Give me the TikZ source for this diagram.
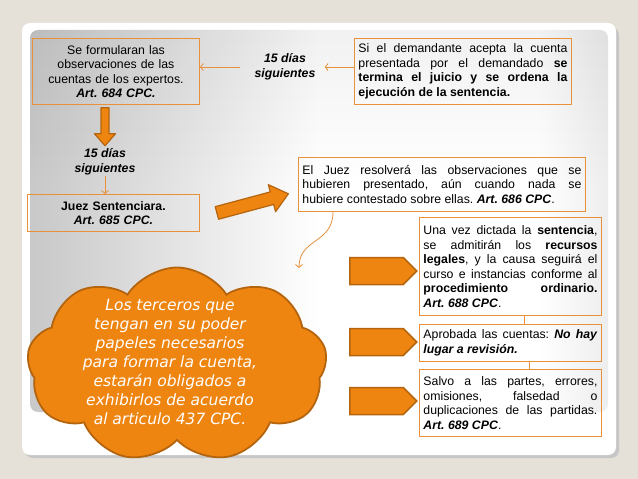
\documentclass[tikz,border=0pt]{standalone}
\usepackage{fontspec}
\setmainfont{Liberation Sans}
\newfontfamily\nubefont{DejaVu Sans}
\usetikzlibrary{shapes.symbols,arrows.meta}

\definecolor{fondo}{HTML}{E5E1D9}
\definecolor{naranja}{HTML}{EE8511}
\definecolor{naranjaborde}{HTML}{B5640E}
\definecolor{bordecaja}{HTML}{E8903A}
\definecolor{grisA}{HTML}{9C9C9C}
\definecolor{grisB}{HTML}{CCCCCC}
\definecolor{grisC}{HTML}{D0D0D0}
\definecolor{grisD}{HTML}{8E8E8E}
\definecolor{grisE}{HTML}{E0E0E0}

% shading of the slide panel
\pgfdeclarehorizontalshading{panelh}{100bp}{color(0bp)=(grisA); color(27bp)=(grisB); color(50bp)=(white); color(69bp)=(white); color(85bp)=(grisC); color(100bp)=(grisD)}
\pgfdeclareverticalshading{panelv}{100bp}{color(0bp)=(white); color(55bp)=(white); color(100bp)=(grisE)}

\newcommand\cajafont{\frenchspacing\fontsize{12.3bp}{14.5bp}\selectfont}

\begin{document}
\begin{tikzpicture}[x=1bp, y=-1bp,
  caja/.style={draw=bordecaja, line width=0.9bp, anchor=north west, inner xsep=4bp, inner ysep=2bp, font=\cajafont},
  dias/.style={font=\cajafont\bfseries\itshape, align=center, inner sep=1bp},
  flechita/.style={draw=bordecaja, line width=0.8bp, -{Straight Barb[length=3bp,width=7bp]}},
  gruesa/.style={fill=naranja, draw=naranjaborde, line width=1.2bp, line join=round},
  senal/.style={signal, signal to=east, fill=naranja, draw=naranjaborde, line width=1.5bp, minimum width=67bp, minimum height=27bp, inner sep=0pt},
  nube/.style={cloud, cloud puffs=9, cloud puff arc=115, cloud ignores aspect, minimum width=300bp, minimum height=195bp, fill=naranja, draw=naranjaborde, line width=1.8bp},
  textonube/.style={font=\nubefont\itshape\frenchspacing\fontsize{15.5bp}{19bp}\selectfont, text=white, align=center}]

% Background and slide panel
\fill[fondo] (0,0) rectangle (638,479);
\useasboundingbox (0,0) rectangle (638,479);
\fill[gray!45, rounded corners=8bp] (25,27) rectangle (619,458);
\fill[white, rounded corners=8bp] (22,23) rectangle (616,455);
\shade[shading=panelh, rounded corners=8bp] (30,30) rectangle (608,412);
\begin{scope}[blend mode=multiply]
\shade[shading=panelv, rounded corners=8bp] (30,30) rectangle (608,412);
\end{scope}

% Top row
\node[caja, text width=159bp, minimum height=66bp, align=center] (formular) at (32,38) {Se formularan las\\observaciones de las\\cuentas de los expertos.\\\textbf{\textit{Art. 684 CPC.}}};
\node[caja, text width=209bp, minimum height=66bp, align=justify] (cuenta) at (354,38) {Si el demandante acepta la cuenta\linebreak presentada por el demandado \textbf{se}\linebreak \textbf{termina el juicio y se ordena la}\linebreak \textbf{ejecución de la sentencia.}};
\node[dias] (dias1) at (285,67) {15 días\\siguientes};
\draw[flechita, shorten >=8bp] (cuenta.west |- dias1.east) -- (dias1.east);
\draw[flechita, shorten <=13bp] (dias1.west) -- (dias1.west -| formular.east);

% Left column
\node[dias] (dias2) at (105,162) {15 días\\siguientes};
\node[caja, text width=164bp, minimum height=37bp, align=center] (juez) at (27,194) {\textbf{Juez Sentenciara.}\\\textbf{\textit{Art. 685 CPC.}}};
\draw[flechita] (dias2.south) -- (dias2.south |- juez.north);
\begin{scope}[shift={(dias2.north)}]
\filldraw[gruesa] (-4,-40) -- (4,-40) -- (4,-14) -- (10.5,-14) -- (0,-2) -- (-10.5,-14) -- (-4,-14) -- cycle;
\end{scope}
\begin{scope}[shift={([xshift=17bp]juez.east)}, rotate=15]
\filldraw[gruesa] (0,-6.5) -- (57,-6.5) -- (57,-14) -- (74,0) -- (57,14) -- (57,6.5) -- (0,6.5) -- cycle;
\end{scope}

% Judge resolves
\node[caja, text width=279bp, minimum height=54bp, align=justify] (resuelve) at (298,157) {El Juez resolverá las observaciones que se\linebreak hubieren presentado, aún cuando nada se\linebreak hubiere contestado sobre ellas. \textbf{\textit{Art. 686 CPC}}.};
\coordinate (llegada) at (299,268);
\draw[flechita] ([xshift=35bp]resuelve.south west) .. controls +(0,32) and +(0,-30) .. (llegada);

% Cloud
\node[nube] (nube) at (177,365) {};
\node[textonube] (terceros) at (170,362) {Los terceros que\\tengan en su poder\\papeles necesarios\\para formar la cuenta,\\estarán obligados a\\exhibirlos de acuerdo\\al articulo 437 CPC.};

% Right column
\node[senal] (senal1) at (376.5,271) {};
\node[senal] (senal2) at (376.5,342) {};
\node[senal] (senal3) at (376.5,401) {};
\node[caja, text width=174bp, minimum height=98bp, align=justify] (unavez) at (419,217) {Una vez dictada la \textbf{sentencia},\linebreak se admitirán los \textbf{recursos}\linebreak \textbf{legales}, y la causa seguirá el\linebreak curso e instancias conforme al\linebreak \textbf{procedimiento ordinario.}\linebreak \textbf{\textit{Art. 688 CPC}}.};
\node[caja, text width=174bp, minimum height=37bp, align=justify] (aprobada) at (419,324) {Aprobada las cuentas: \textbf{\textit{No hay}}\linebreak \textbf{\textit{lugar a revisión.}}};
\node[caja, text width=174bp, minimum height=67bp, align=justify] (salvo) at (419,369) {Salvo a las partes, errores,\linebreak omisiones, falsedad o\linebreak duplicaciones de las partidas.\linebreak \textbf{\textit{Art. 689 CPC}}.};
\draw[bordecaja, line width=0.9bp] ([xshift=14bp]unavez.south) -- ([xshift=14bp]aprobada.north);
\draw[bordecaja, line width=0.9bp] ([xshift=19bp]aprobada.south) -- ([xshift=19bp]salvo.north);
\end{tikzpicture}
\end{document}
